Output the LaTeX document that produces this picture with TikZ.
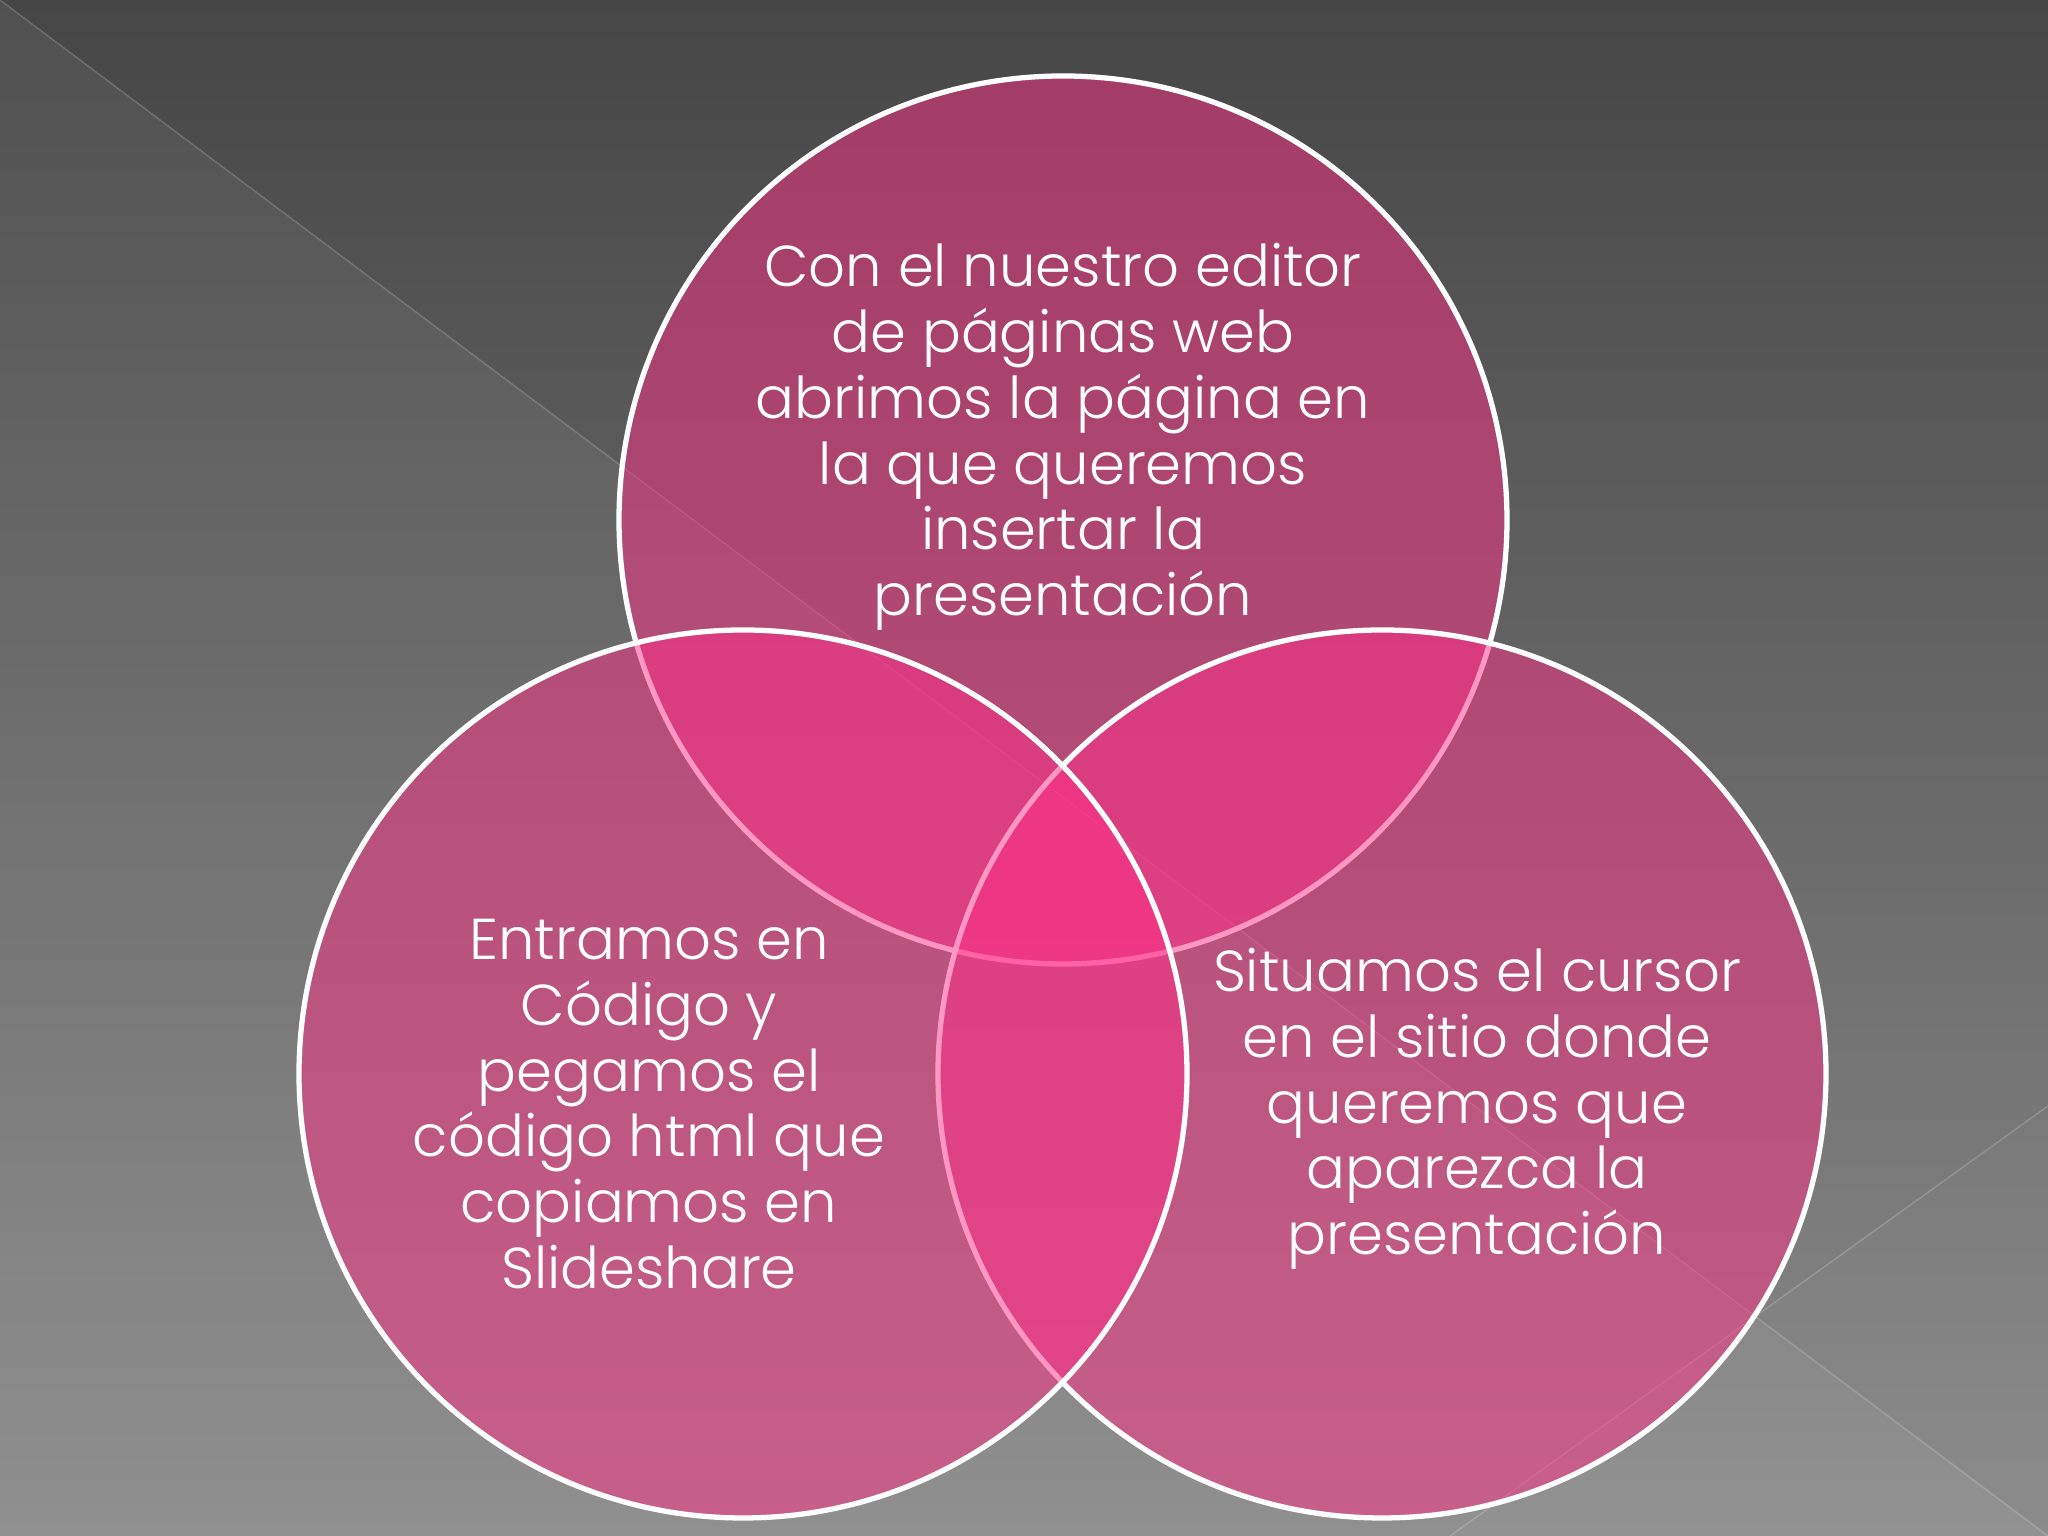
\documentclass[tikz,border=0pt]{standalone}
\usepackage{fontspec}
\setmainfont{Poppins}[UprightFont=* Light]
\begin{document}
\begin{tikzpicture}[x=1cm,y=1cm,
  venn/.style={circle, minimum size=8.88cm, inner sep=0pt, draw=white, line width=1.5pt,
    fill={rgb,255:red,255;green,48;blue,135}, fill opacity=0.5, draw opacity=1},
  vtext/.style={align=center, text=white, font=\fontsize{16.4}{18.7}\selectfont, text opacity=1}]
\useasboundingbox (0,0) rectangle (20.48,15.36);
% background
\shade[top color={rgb,255:red,70;green,70;blue,70}, middle color={rgb,255:red,94;green,94;blue,95}, bottom color={rgb,255:red,138;green,138;blue,138}] (0,0) rectangle (20.48,15.36);
\fill[white, opacity=0.055] (0,15.36) -- (20.48,0) -- (0,0) -- cycle;
\fill[white, opacity=0.02] (14.50,0) -- (20.48,4.30) -- (20.48,0) -- cycle;
\coordinate (d1) at (0,15.36);
\coordinate (d2) at (20.48,0);
\coordinate (e1) at (14.50,0);
\coordinate (e2) at (20.48,4.30);
\draw[white, opacity=0.18, line width=0.4pt] (d1) -- (d2);
\draw[white, opacity=0.18, line width=0.4pt] (e1) -- (e2);
% circles
\node[venn] (top) at (10.63,10.16) {};
\node[venn] (right) at (13.82,4.62) {};
\node[venn] (left) at (7.43,4.62) {};
% texts
\node[vtext] (ttop) at (10.63,10.99) {Con el nuestro editor\\de páginas web\\abrimos la página en\\la que queremos\\insertar la\\presentación};
\node[vtext] (tleft) at (6.49,4.32) {Entramos en\\Código y\\pegamos el\\código html que\\copiamos en\\Slideshare};
\node[vtext] (tright) at (14.77,4.27) {Situamos el cursor\\en el sitio donde\\queremos que\\aparezca la\\presentación};
\end{tikzpicture}
\end{document}
